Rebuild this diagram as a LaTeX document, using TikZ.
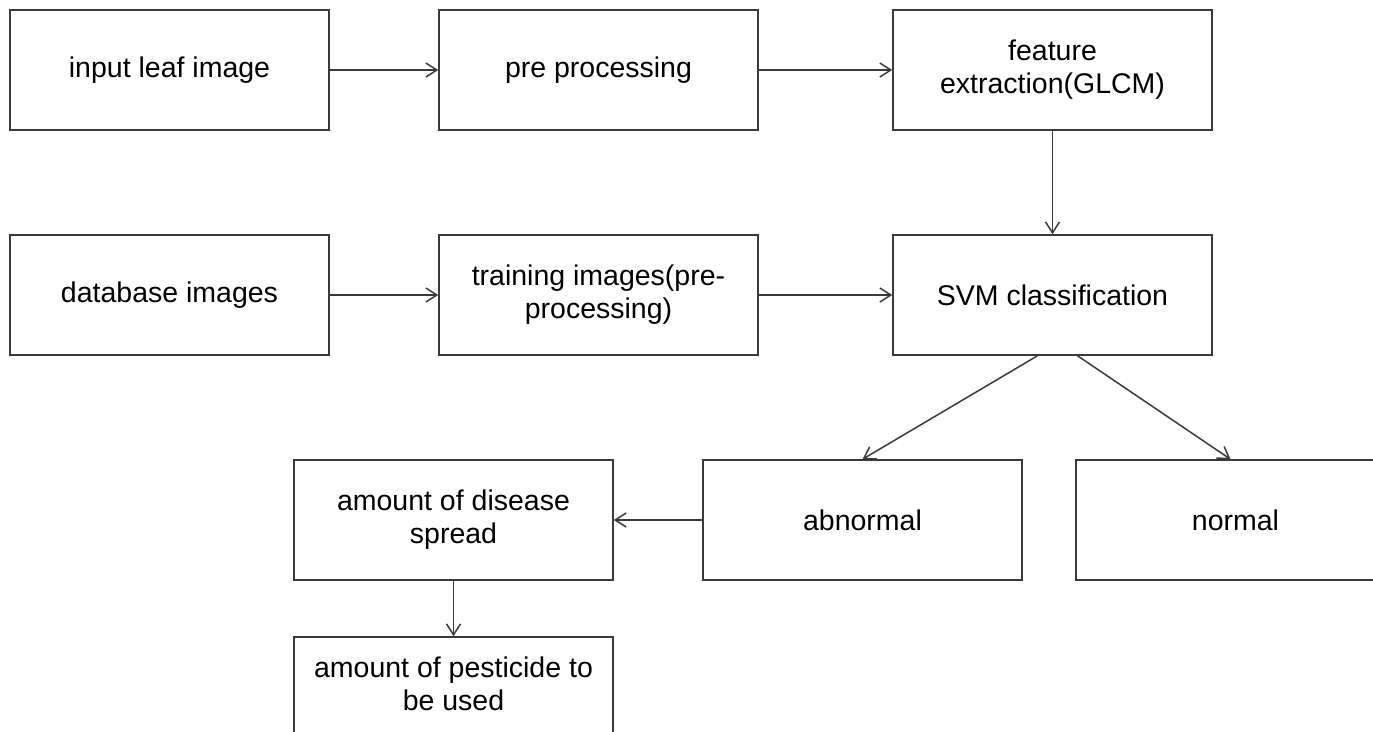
\documentclass[tikz,border=0pt]{standalone}
\usepackage{fontspec}
\setmainfont{Liberation Sans}
\usetikzlibrary{arrows.meta,positioning}

\definecolor{edge}{HTML}{3A3A3A}

\tikzset{
  box/.style={draw=edge, line width=1.5pt, minimum width=319pt, minimum height=120pt,
              inner sep=0pt, align=center, text=black,
              font=\fontsize{28.5}{33}\selectfont},
  label/.style={align=center, inner sep=0pt, text=black,
              font=\fontsize{28.5}{33}\selectfont},
  flow/.style={draw=edge, line width=1.5pt,
              -{Straight Barb[length=11pt,width=14pt,line width=1.5pt]}}
}

\begin{document}
\begin{tikzpicture}[x=1pt,y=-1pt]
  \useasboundingbox (0,0) rectangle (1373,731);
  \clip (0,0) rectangle (1373,731);

  % first row: image input pipeline
  \node[box] (input) at (169.5,70) {input leaf image};
  \node[box] (pre)   at (598.5,70) {pre processing};
  \node[box] (feat)  at (1052.5,70) {feature\\extraction(GLCM)};

  % second row: training branch and classifier
  \node[box] (db)    at (169.5,295) {database images};
  \node[box] (train) at (598.5,295) {training images(pre-\\processing)};
  \node[box] (svm)   at (1052.5,295) {SVM classification};

  % third row: classification outcome
  \node[box] (dis)   at (453.5,520) {amount of disease\\spread};
  \node[box] (abn)   at (862.5,520) {abnormal};
  \node[box] (norm)  at (1235.5,520) {normal};

  % final step
  \node[box] (pest)  at (453.5,697) {};
  \node[label] (pesttext) at (453.5,683.5) {amount of pesticide to\\be used};

  % connectors
  \draw[flow] (input) -- (pre);
  \draw[flow] (pre) -- (feat);
  \draw[flow] (feat) -- (svm);
  \draw[flow] (db) -- (train);
  \draw[flow] (train) -- (svm);
  \draw[flow] ([xshift=-15pt]svm.south) -- (abn.north);
  \draw[flow] ([xshift=25pt]svm.south) -- ([xshift=-5pt]norm.north);
  \draw[flow] (abn) -- (dis);
  \draw[flow] (dis) -- (pest);
\end{tikzpicture}
\end{document}
